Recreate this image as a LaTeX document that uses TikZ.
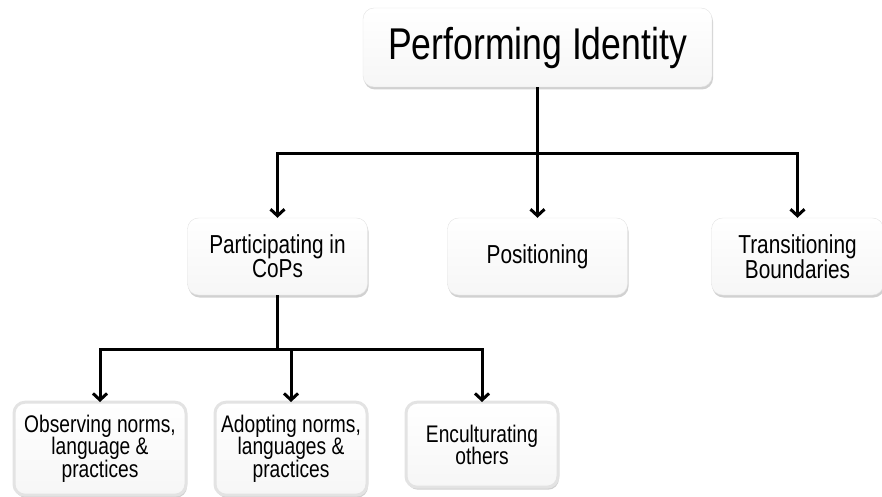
\documentclass[tikz,border=0pt]{standalone}
\usepackage{fontspec}
\setmainfont{Liberation Sans}[FakeStretch=0.8]
\usepackage{tikz}
\usetikzlibrary{arrows.meta, positioning, trees, shadows}

\begin{document}
\begin{tikzpicture}[
            grow=down,
            level 1/.style={level distance=209pt, sibling distance=260pt,
                edge from parent path={(\tikzparentnode.south) -- ++(0,-66pt) -| (\tikzchildnode.north)}},
            level 2/.style={grow via three points={one child at (13.5pt,-145.5pt) and two children at (-82pt,-145.5pt) and (109pt,-145.5pt)},
                edge from parent path={(\tikzparentnode.south) -- ++(0,-54pt) -| (\tikzchildnode.north)}},
            edge from parent/.style={draw=black, line width=3pt, -{Straight Barb[length=6.5pt, width=14pt]}},
            box/.style={rectangle, rounded corners=11pt, draw=gray!22, top color=white, bottom color=gray!7,
                drop shadow={shadow xshift=1pt, shadow yshift=-2.5pt, fill=black!45, opacity=0.4},
                align=center, inner sep=2pt},
            root/.style={box, minimum width=349pt, minimum height=79pt, font=\fontsize{44.5}{48}\selectfont},
            branch/.style={box, minimum width=180pt, minimum height=77pt, font=\fontsize{26}{24}\selectfont},
            leaf/.style={box, anchor=north, minimum width=152pt, minimum height=93pt, font=\fontsize{24}{22.5}\selectfont}
        ]
            \useasboundingbox (0,0) rectangle (882pt,-497pt);
            \node[root] (perf) at (537.5pt,-47.5pt) {Performing Identity}
                child { node[branch] (cops) {Participating in\\CoPs}
                    child { node[leaf, minimum width=172pt] (obs) {Observing norms,\\language \&\\practices} }
                    child { node[leaf] (adopt) {Adopting norms,\\languages \&\\practices} }
                    child { node[leaf, minimum height=85pt] (encult) {Enculturating\\others} }
                }
                child { node[branch] (pos) {Positioning} }
                child { node[branch, minimum width=172pt] (trans) {Transitioning\\Boundaries} };
        \end{tikzpicture}
\end{document}
